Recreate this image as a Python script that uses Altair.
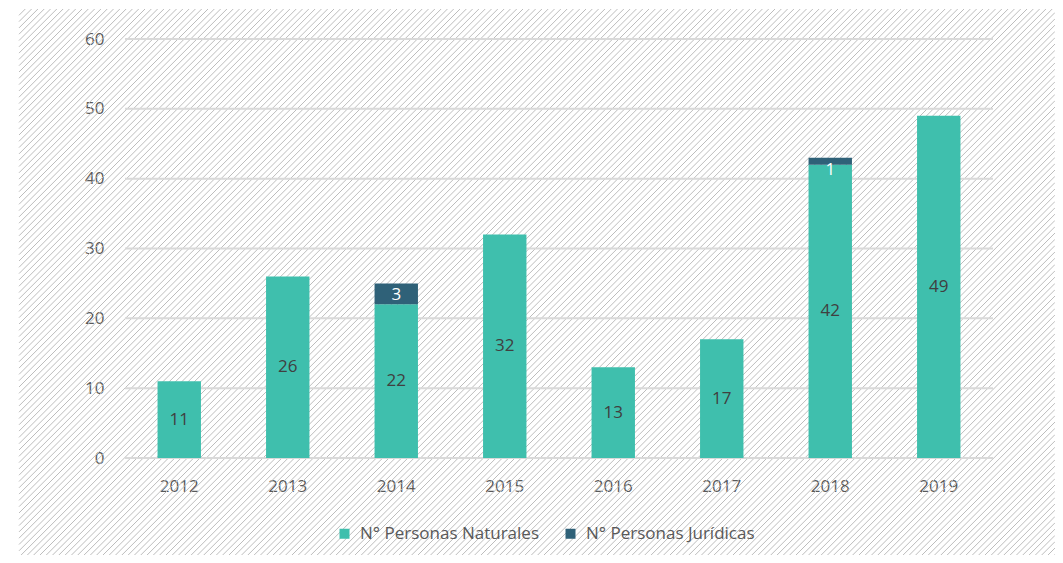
import altair as alt
import pandas as pd

# ---- data ----
years = ["2012", "2013", "2014", "2015", "2016", "2017", "2018", "2019"]
naturales = [11, 26, 22, 32, 13, 17, 42, 49]
juridicas = [0, 0, 3, 0, 0, 0, 1, 0]
series = ["N° Personas Naturales", "N° Personas Jurídicas"]
y_ticks = [0, 10, 20, 30, 40, 50, 60]

# ---- style ----
FONT = "Open Sans"
COLORS = ["#3FBFAD", "#2F6178"]
W, H = 868, 419
PAD = {"left": 117, "top": 31, "right": 62, "bottom": 97}

rows = []
for i, yr in enumerate(years):
    rows.append({"year": yr, "series": series[0], "value": naturales[i], "ord": 0})
    if juridicas[i] > 0:
        rows.append({"year": yr, "series": series[1], "value": juridicas[i], "ord": 1})
df = pd.DataFrame(rows)
grid_df = pd.DataFrame({"value": y_ticks})

# ---- background hatch (decoration) ----
hx0, hx1, hy0, hy1, step = -106, 930, -30, 516, 6.3
n_lines = int(((hx1 + hy1) - (hx0 + hy0)) / step) + 1
hatch = (
    alt.Chart(alt.sequence(0, n_lines, as_="k"))
    .transform_calculate(c=f"{hx0 + hy0} + datum.k * {step}")
    .transform_calculate(ax=f"max({hx0}, datum.c - {hy1})", bx=f"min({hx1}, datum.c - ({hy0}))")
    .transform_calculate(ay="datum.c - datum.ax", by="datum.c - datum.bx")
    .mark_rule(color="#bdbdbd", strokeWidth=1)
    .encode(
        x=alt.X("ax:Q", scale=None, axis=None),
        y=alt.Y("ay:Q", scale=None, axis=None),
        x2="bx:Q",
        y2="by:Q",
    )
)

yscale = alt.Scale(domain=[0, 60], nice=False)
xscale = alt.Scale(paddingInner=0.6, paddingOuter=0.3)
xaxis = alt.Axis(
    title=None, labelAngle=0, ticks=False, domain=False, grid=False,
    labelPadding=20, labelFontSize=17, labelColor="#595959", labelFont=FONT,
)
yaxis = alt.Axis(
    title=None, values=y_ticks, ticks=False, domain=False, grid=False,
    labelPadding=21, labelFontSize=17, labelColor="#595959", labelFont=FONT,
)

grid = (
    alt.Chart(grid_df)
    .mark_rule(color="#d9d9d9", strokeWidth=2)
    .encode(
        y=alt.Y("value:Q", scale=yscale, axis=yaxis),
        x=alt.value(0),
        x2=alt.value(W),
    )
)

bars = (
    alt.Chart(df)
    .mark_bar()
    .encode(
        x=alt.X("year:N", scale=xscale, sort=years, axis=xaxis),
        y=alt.Y("value:Q", stack="zero", scale=yscale, axis=yaxis),
        color=alt.Color(
            "series:N",
            scale=alt.Scale(domain=series, range=COLORS),
            legend=alt.Legend(
                orient="none", legendX=211, legendY=486, direction="horizontal",
                title=None, symbolType="square", symbolSize=100, symbolStrokeWidth=0,
                symbolOpacity=1, labelFontSize=17, labelColor="#595959", labelFont=FONT,
                columnPadding=23, labelOffset=7, labelLimit=400,
            ),
        ),
        order=alt.Order("ord:Q"),
    )
)

stacked = (
    alt.Chart(df)
    .transform_stack(stack="value", groupby=["year"], as_=["v0", "v1"], sort=[alt.SortField("ord")])
    .transform_calculate(mid="(datum.v0 + datum.v1) / 2")
)

labels_nat = (
    stacked.transform_filter(alt.datum.ord == 0)
    .mark_text(font=FONT, fontSize=17, baseline="middle", align="center", color="#404040")
    .encode(
        x=alt.X("year:N", scale=xscale, sort=years, axis=xaxis),
        y=alt.Y("mid:Q", scale=yscale, axis=yaxis),
        text=alt.Text("value:Q"),
    )
)

labels_jur = (
    stacked.transform_filter(alt.datum.ord == 1)
    .mark_text(font=FONT, fontSize=17, baseline="top", align="center", color="#FFFFFF", dy=4)
    .encode(
        x=alt.X("year:N", scale=xscale, sort=years, axis=xaxis),
        y=alt.Y("v1:Q", scale=yscale, axis=yaxis),
        text=alt.Text("value:Q"),
    )
)

main = alt.layer(grid, bars, labels_nat, labels_jur)

chart = (
    alt.layer(hatch, main)
    .resolve_scale(x="independent", y="independent")
    .properties(
        width=W, height=H,
        autosize=alt.AutoSizeParams(type="none"),
        padding=PAD,
        background="white",
    )
    .configure_view(stroke=None)
)

chart.save("out.html", embed_options={"renderer": "svg", "actions": False})
